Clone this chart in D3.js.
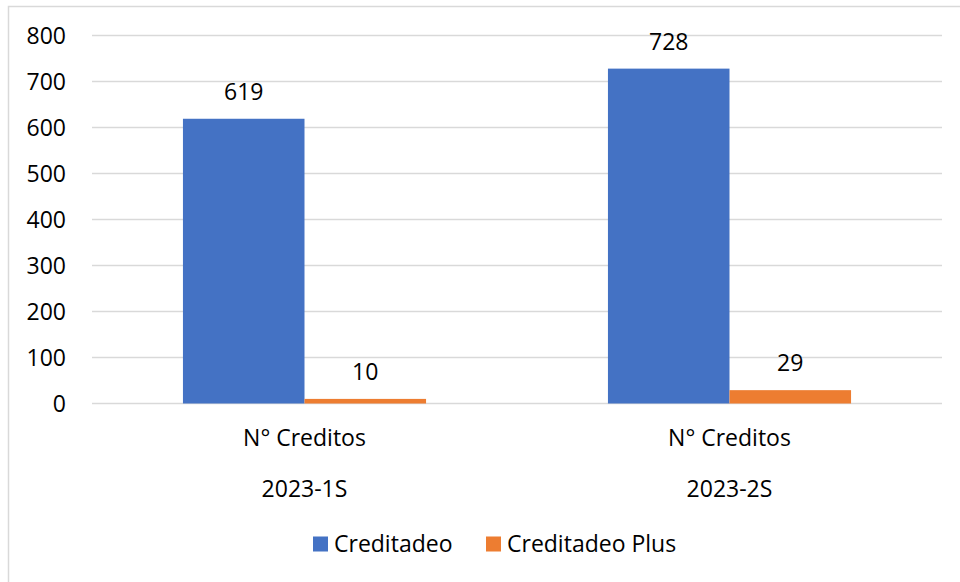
<!DOCTYPE html>
<html>
<head>
<meta charset="utf-8">
<script src="https://cdn.jsdelivr.net/npm/d3@7"></script>
<style>
  body { margin: 0; background: #fff; }
  text { font-family: "Open Sans", "Liberation Sans", Arial, sans-serif; fill: #000; }
</style>
</head>
<body>
<script>
var svg_width  = 960;
var svg_height = 582;

// data
var periods = ["2023-1S", "2023-2S"];
var groupLabel = "N° Creditos";
var seriesNames = ["Creditadeo", "Creditadeo Plus"];
var creditadeo = [619, 728];
var creditadeoPlus = [10, 29];
var yTicks = [0, 100, 200, 300, 400, 500, 600, 700, 800];

var colors = ["#4472C4", "#ED7D31"];
var FONT = 23;

var svg = d3.select('body').append('svg')
            .attr('width', svg_width)
            .attr('height', svg_height);

// outer chart border
svg.append("rect")
   .attr("x", 8.5).attr("y", 6.5)
   .attr("width", 980).attr("height", 600)
   .attr("fill", "none")
   .attr("stroke", "#d9d9d9")
   .attr("stroke-width", 1.5);

var plot = {left: 92, right: 942, top: 35.5, bottom: 403.5};

var y = d3.scaleLinear()
          .domain([0, 800])
          .range([plot.bottom, plot.top]);

var x0 = d3.scaleBand()
           .domain(periods)
           .range([plot.left, plot.right]);

// the pair of bars takes ~57% of each band
var x1 = d3.scaleBand()
           .domain(seriesNames)
           .range([0, x0.bandwidth() * 0.572]);
var pairOffset = (x0.bandwidth() - x1.range()[1]) / 2;

// gridlines
svg.append("g")
   .selectAll("line")
   .data(yTicks)
   .enter().append("line")
   .attr("x1", plot.left).attr("x2", plot.right)
   .attr("y1", d => y(d)).attr("y2", d => y(d))
   .attr("stroke", "#d9d9d9")
   .attr("stroke-width", 1.5);

// y tick labels
svg.append("g")
   .selectAll("text")
   .data(yTicks)
   .enter().append("text")
   .attr("x", 66)
   .attr("y", d => y(d))
   .attr("dy", "0.35em")
   .attr("text-anchor", "end")
   .attr("font-size", FONT)
   .text(d => d);

var rows = periods.map(function(p, i) {
    return {period: p, values: [creditadeo[i], creditadeoPlus[i]]};
});

var groups = svg.append("g")
   .selectAll("g")
   .data(rows)
   .enter().append("g")
   .attr("transform", d => "translate(" + (x0(d.period) + pairOffset) + ",0)");

var bars = groups.selectAll("g.bar")
   .data(d => d.values.map((v, j) => ({name: seriesNames[j], value: v, idx: j})))
   .enter().append("g").attr("class", "bar");

bars.append("rect")
    .attr("x", d => x1(d.name))
    .attr("width", x1.bandwidth())
    .attr("y", d => y(d.value))
    .attr("height", d => y(0) - y(d.value))
    .attr("fill", d => colors[d.idx]);

// value labels
bars.append("text")
    .attr("x", d => x1(d.name) + x1.bandwidth() / 2)
    .attr("y", d => y(d.value) - 27)
    .attr("dy", "0.35em")
    .attr("text-anchor", "middle")
    .attr("font-size", FONT)
    .text(d => d.value);

// category labels (two levels)
var cat = svg.append("g")
   .selectAll("g")
   .data(periods)
   .enter().append("g");

cat.append("text")
   .attr("x", d => x0(d) + x0.bandwidth() / 2)
   .attr("y", 438)
   .attr("dy", "0.35em")
   .attr("text-anchor", "middle")
   .attr("font-size", FONT)
   .text(groupLabel);

cat.append("text")
   .attr("x", d => x0(d) + x0.bandwidth() / 2)
   .attr("y", 489)
   .attr("dy", "0.35em")
   .attr("text-anchor", "middle")
   .attr("font-size", FONT)
   .text(d => d);

// legend
var legendX = [313, 486];
var legend = svg.append("g")
   .selectAll("g")
   .data(seriesNames)
   .enter().append("g")
   .attr("transform", (d, i) => "translate(" + legendX[i] + ",544)");

legend.append("rect")
      .attr("x", 0).attr("y", -7.5)
      .attr("width", 15).attr("height", 15)
      .attr("fill", (d, i) => colors[i]);

legend.append("text")
      .attr("x", 21)
      .attr("y", 0)
      .attr("dy", "0.35em")
      .attr("font-size", FONT)
      .text(d => d);
</script>
</body>
</html>
